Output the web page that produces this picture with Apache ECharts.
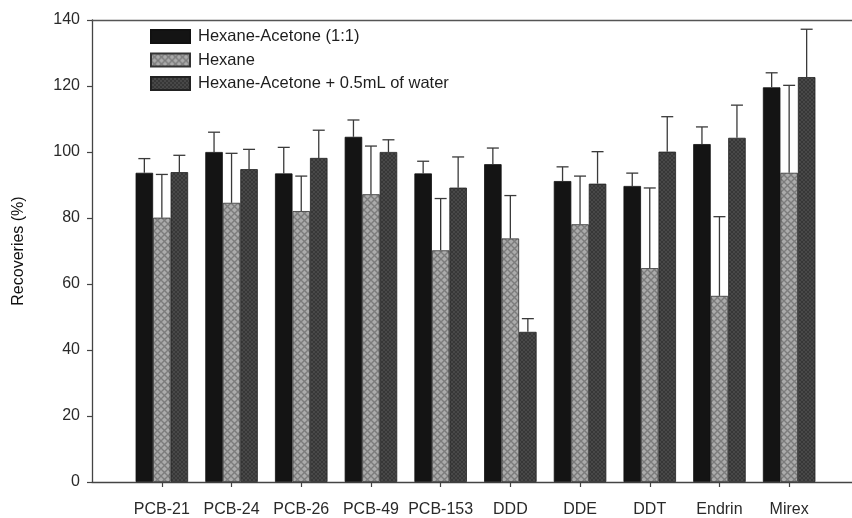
<!DOCTYPE html>
<html>
<head>
<meta charset="utf-8">
<title>Recoveries by extraction solvent</title>
<script src="https://cdn.jsdelivr.net/npm/echarts@6/dist/echarts.min.js"></script>
<style>
  html, body { margin: 0; padding: 0; background: #ffffff; }
  #chart { width: 852px; height: 518px; }
</style>
</head>
<body>
<div id="chart"></div>
<script>
// Analytes on the x axis
const categories = ['PCB-21', 'PCB-24', 'PCB-26', 'PCB-49', 'PCB-153', 'DDD', 'DDE', 'DDT', 'Endrin', 'Mirex'];

// Mean recoveries (%) per solvent system
const hexaneAcetone = [93.7, 100.0, 93.5, 104.6, 93.5, 96.3, 91.2, 89.7, 102.4, 119.6];
const hexane = [80.1, 84.6, 82.1, 87.2, 70.2, 73.8, 78.1, 64.8, 56.4, 93.7];
const hexaneAcetoneWater = [93.9, 94.8, 98.2, 100.0, 89.2, 45.5, 90.4, 100.1, 104.3, 122.7];

// Standard deviations (drawn as upward error bars)
const hexaneAcetoneSd = [4.3, 6.0, 7.9, 5.1, 3.7, 4.9, 4.3, 3.9, 5.2, 4.4];
const hexaneSd = [13.1, 15.0, 10.6, 14.6, 15.7, 13.0, 14.6, 24.3, 24.0, 26.5];
const hexaneAcetoneWaterSd = [5.1, 6.0, 8.4, 3.7, 9.3, 4.0, 9.7, 10.6, 9.9, 14.5];

const seriesNames = ['Hexane-Acetone (1:1)', 'Hexane', 'Hexane-Acetone + 0.5mL of water'];

// Y axis range and step
const yMin = 0, yMax = 140, yStep = 20;

const BAR_W = 17.5;
const FONT = 'Liberation Sans, Arial, sans-serif';

// Fill patterns for the textured bars
function makePattern(base, line, size, width) {
  const c = document.createElement('canvas');
  c.width = size; c.height = size;
  const g = c.getContext('2d');
  g.fillStyle = base;
  g.fillRect(0, 0, size, size);
  g.strokeStyle = line;
  g.lineWidth = width;
  g.beginPath();
  g.moveTo(0, 0); g.lineTo(size, size);
  g.moveTo(size, 0); g.lineTo(0, size);
  g.stroke();
  return { image: c, repeat: 'repeat' };
}
const hexanePattern = makePattern('#ababab', '#7c7c7c', 7, 1.4);
const waterPattern = makePattern('#484848', '#373737', 4, 1);

const chart = echarts.init(document.getElementById('chart'), null, { renderer: 'canvas' });

function errorSeries(name, means, sds, slot) {
  return {
    type: 'custom',
    name: name + ' SD',
    xAxisIndex: 0,
    yAxisIndex: 0,
    z: 3,
    silent: true,
    data: means.map((m, i) => [i, m, m + sds[i]]),
    renderItem: function (params, api) {
      const idx = api.value(0);
      const lo = api.coord([idx, api.value(1)]);
      const hi = api.coord([idx, api.value(2)]);
      const x = lo[0] + (slot - 1) * BAR_W;
      const cap = 6;
      const style = { stroke: '#3a3a3a', lineWidth: 1.3 };
      return {
        type: 'group',
        children: [
          { type: 'line', shape: { x1: x, y1: lo[1], x2: x, y2: hi[1] }, style: style },
          { type: 'line', shape: { x1: x - cap, y1: hi[1], x2: x + cap, y2: hi[1] }, style: style }
        ]
      };
    }
  };
}

const option = {
  backgroundColor: '#ffffff',
  animation: false,
  legend: {
    orient: 'vertical',
    left: 145,
    top: 23,
    itemWidth: 39,
    itemHeight: 13,
    itemGap: 6.5,
    icon: 'rect',
    data: seriesNames,
    textStyle: { fontFamily: FONT, fontSize: 16.5, color: '#1e1e1e', lineHeight: 14, padding: [0, 0, 0, 3] }
  },
  grid: [
    { left: 127, right: 28, top: 20, bottom: 36 },
    { left: 92, right: 0, top: 20, bottom: 36 }
  ],
  xAxis: [
    {
      type: 'category',
      gridIndex: 0,
      data: categories,
      axisLine: { show: false },
      axisTick: { show: true, alignWithLabel: true, length: 5, lineStyle: { color: '#444', width: 1.2 } },
      axisLabel: { margin: 20, fontFamily: FONT, fontSize: 16, color: '#2a2a2a', interval: 0 },
      splitLine: { show: false }
    },
    {
      type: 'value',
      gridIndex: 1,
      position: 'bottom',
      min: 0, max: 1,
      axisLine: { show: true, lineStyle: { color: '#444', width: 1.3 } },
      axisTick: { show: false },
      axisLabel: { show: false },
      splitLine: { show: false }
    },
    {
      type: 'value',
      gridIndex: 1,
      position: 'top',
      min: 0, max: 1,
      axisLine: { show: true, lineStyle: { color: '#555', width: 1.3 } },
      axisTick: { show: false },
      axisLabel: { show: false },
      splitLine: { show: false }
    }
  ],
  yAxis: [
    {
      type: 'value',
      gridIndex: 0,
      min: yMin, max: yMax, interval: yStep,
      show: false
    },
    {
      type: 'value',
      gridIndex: 1,
      min: yMin, max: yMax, interval: yStep,
      name: 'Recoveries (%)',
      nameLocation: 'middle',
      nameGap: 65,
      nameRotate: 90,
      nameTextStyle: { fontFamily: FONT, fontSize: 16, color: '#111' },
      axisLine: { show: true, lineStyle: { color: '#444', width: 1.3 } },
      axisTick: { show: true, length: 5, lineStyle: { color: '#444', width: 1.2 } },
      axisLabel: { margin: 12, fontFamily: FONT, fontSize: 16, color: '#2a2a2a' },
      splitLine: { show: false }
    }
  ],
  series: [
    {
      name: seriesNames[0], type: 'bar', xAxisIndex: 0, yAxisIndex: 0,
      data: hexaneAcetone, barWidth: BAR_W, barGap: '0%',
      itemStyle: { color: '#141414', borderColor: '#111', borderWidth: 0.8 }
    },
    {
      name: seriesNames[1], type: 'bar', xAxisIndex: 0, yAxisIndex: 0,
      data: hexane, barWidth: BAR_W, barGap: '0%',
      itemStyle: { color: hexanePattern, borderColor: '#333', borderWidth: 0.8 }
    },
    {
      name: seriesNames[2], type: 'bar', xAxisIndex: 0, yAxisIndex: 0,
      data: hexaneAcetoneWater, barWidth: BAR_W, barGap: '0%',
      itemStyle: { color: waterPattern, borderColor: '#222', borderWidth: 0.8 }
    },
    errorSeries(seriesNames[0], hexaneAcetone, hexaneAcetoneSd, 0),
    errorSeries(seriesNames[1], hexane, hexaneSd, 1),
    errorSeries(seriesNames[2], hexaneAcetoneWater, hexaneAcetoneWaterSd, 2)
  ]
};

chart.setOption(option);
</script>
</body>
</html>
